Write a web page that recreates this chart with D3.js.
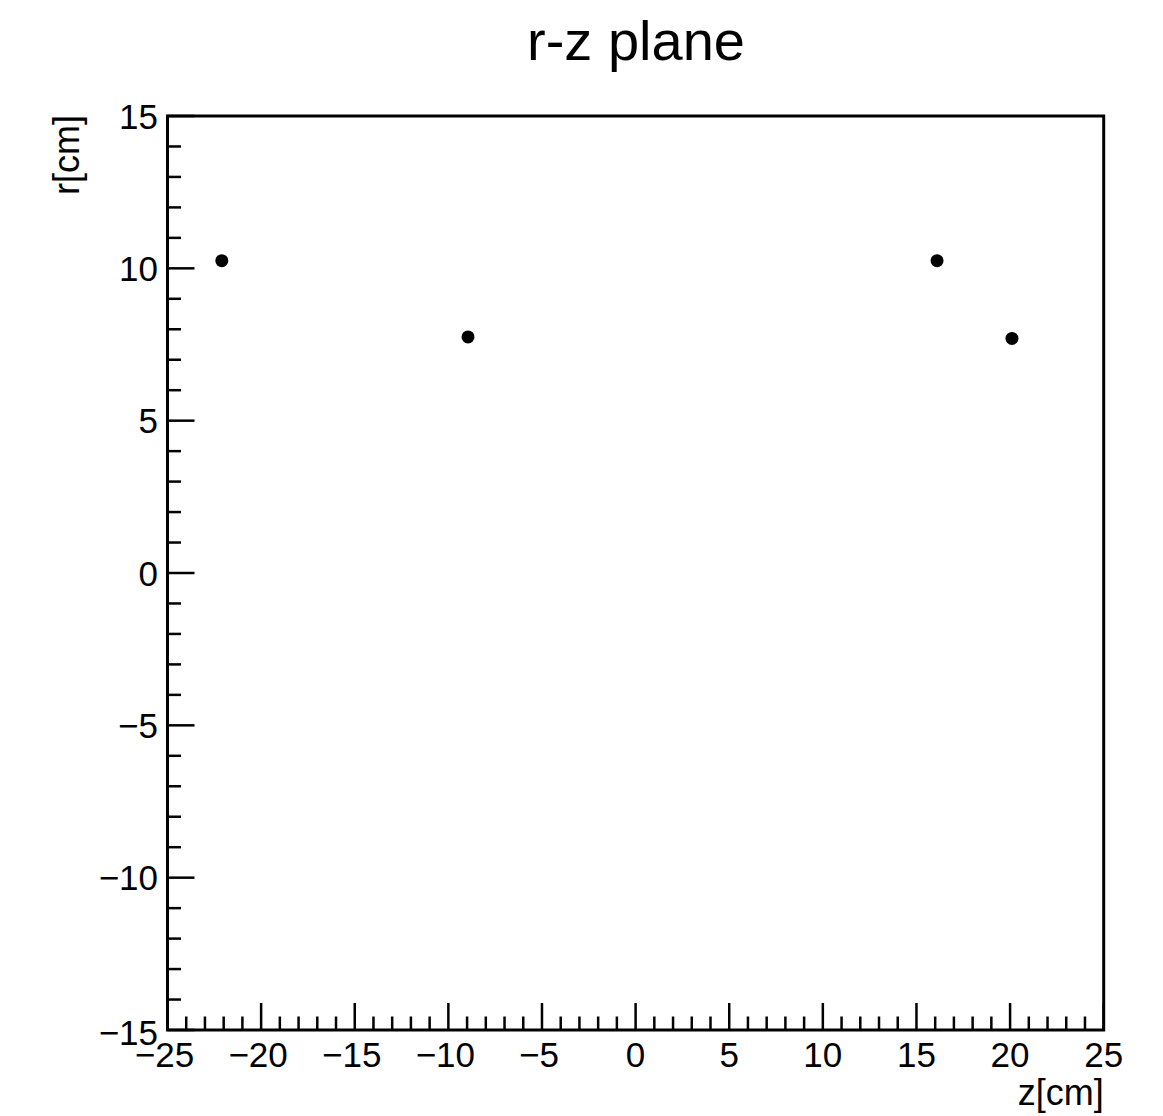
<!DOCTYPE html>
<html>
<head>
<meta charset="utf-8">
<script src="https://cdn.jsdelivr.net/npm/d3@7"></script>
<style>
  html, body { margin: 0; padding: 0; background: #fff; }
  text { font-family: "Liberation Sans", Arial, Helvetica, sans-serif; fill: #000; }
</style>
</head>
<body>
<svg id="chart" width="1163" height="1116"></svg>
<script>
// Data
const zValues = [-22.1, -8.95, 16.1, 20.1];
const rValues = [10.25, 7.75, 10.25, 7.7];
const xTicks = [-25, -20, -15, -10, -5, 0, 5, 10, 15, 20, 25];
const yTicks = [-15, -10, -5, 0, 5, 10, 15];
const xMinor = d3.range(-25, 25.01, 1);
const yMinor = d3.range(-15, 15.01, 1);
const title = "r-z plane";
const xTitle = "z[cm]";
const yTitle = "r[cm]";

const svg = d3.select("#chart");
const L = 167.5, R = 1103.7, T = 116, B = 1030;

const x = d3.scaleLinear().domain([-25, 25]).range([L, R]);
const y = d3.scaleLinear().domain([-15, 15]).range([B, T]);

const fmt = d => (d < 0 ? "\u2212" + Math.abs(d) : String(d));

// frame
svg.append("rect")
  .attr("x", L).attr("y", T).attr("width", R - L).attr("height", B - T)
  .attr("fill", "none").attr("stroke", "#000").attr("stroke-width", 3);

// x axis ticks (inward)
const gx = svg.append("g");
gx.selectAll("line").data(xMinor).join("line")
  .attr("x1", d => x(d)).attr("x2", d => x(d))
  .attr("y1", B).attr("y2", d => (Math.abs(d % 5) < 1e-9 ? B - 27 : B - 13.5))
  .attr("stroke", "#000").attr("stroke-width", 2.5);
gx.selectAll("text").data(xTicks).join("text")
  .attr("x", d => x(d) - (d < 0 ? 3 : 0)).attr("y", 1067)
  .attr("text-anchor", "middle").attr("font-size", 35)
  .text(fmt);

// y axis ticks (inward)
const gy = svg.append("g");
gy.selectAll("line").data(yMinor).join("line")
  .attr("y1", d => y(d)).attr("y2", d => y(d))
  .attr("x1", L).attr("x2", d => (Math.abs(d % 5) < 1e-9 ? L + 27 : L + 13.5))
  .attr("stroke", "#000").attr("stroke-width", 2.5);
gy.selectAll("text").data(yTicks).join("text")
  .attr("x", 158).attr("y", d => y(d) + 12.5 + (d === -15 ? 2 : 0))
  .attr("text-anchor", "end").attr("font-size", 35)
  .text(fmt);

// points
svg.append("g").selectAll("circle").data(zValues).join("circle")
  .attr("cx", (d) => x(d)).attr("cy", (d, i) => y(rValues[i]))
  .attr("r", 6.5).attr("fill", "#000");

// titles
svg.append("text").attr("x", 636).attr("y", 60)
  .attr("text-anchor", "middle").attr("font-size", 56).text(title);
svg.append("text").attr("x", R).attr("y", 1105)
  .attr("text-anchor", "end").attr("font-size", 36).text(xTitle);
svg.append("text").attr("transform", "translate(79,115) rotate(-90)")
  .attr("text-anchor", "end").attr("font-size", 36).text(yTitle);
</script>
</body>
</html>
